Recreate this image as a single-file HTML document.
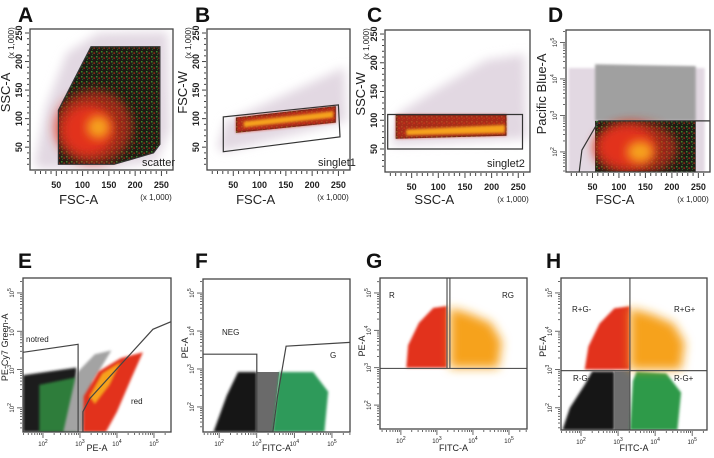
<!DOCTYPE html>
<html><head><meta charset="utf-8"><style>
html,body{margin:0;padding:0;background:#fff}
svg{display:block;font-family:"Liberation Sans",sans-serif}
</style></head><body>
<svg id="fig" width="714" height="458" viewBox="0 0 714 458" xmlns="http://www.w3.org/2000/svg">
<defs>
<filter id="soft" x="-20%" y="-20%" width="140%" height="140%"><feGaussianBlur stdDeviation="1.3"/></filter>
<filter id="soft4" x="-30%" y="-30%" width="160%" height="160%"><feGaussianBlur stdDeviation="5"/></filter>
<pattern id="speck" width="5" height="5" patternUnits="userSpaceOnUse"><rect width="5" height="5" fill="#1e1c14"/><rect x="1" y="1" width="1.5" height="1.5" fill="#3a8a30"/><rect x="3.5" y="2.5" width="1.3" height="1.3" fill="#b83018"/><rect x="2" y="3.8" width="1" height="1" fill="#2d6f2a"/></pattern>
</defs>
<g id="root"></g>
</svg>
<script>
// ---- panel data (data units; log panels use log10 exponents) ----
const aCloud=[[8,20],[30,120],[70,215],[130,250],[262,252],[266,80],[240,25],[150,12],[20,12]];
const aGate=[[54,20],[54,115],[116,226],[247,226],[247,55],[235,40],[160,20]];
const aRedWide=[[120,85,75,65]];
const aRed=[[110,80,50,45]];
const aOrange=[[130,85,22,20]];
const bCloud=[[20,50],[35,95],[100,122],[262,190],[266,95],[120,62],[30,42]];
const bGate=[[31,42],[31,103],[250,124],[253,68]];
const bPop=[[55,75],[55,102],[245,122],[245,93]];
const bOrange=[[70,85],[70,95],[240,113],[240,102]];
const cCloud=[[12,58],[25,112],[90,150],[190,205],[262,215],[266,68],[12,56]];
const cGate=[[5,50],[5,110],[258,110],[258,50]];
const cPop=[[20,68],[20,110],[228,110],[228,73]];
const cOrange=[[40,74],[40,84],[225,92],[225,78]];
const dCloud=[[5,1.45],[5,4.3],[262,4.3],[262,1.45]];
const dGray=[[55,2.85],[55,4.4],[245,4.35],[245,2.85]];
const dPop=[[55,1.45],[55,2.85],[245,2.85],[245,1.45]];
const dRedWide=[[130,2.1,80,0.75]];
const dRed=[[115,2.15,55,0.6]];
const dOrange=[[140,2.0,25,0.3]];
const dGate=[[25,1.45],[30,2.05],[62,2.85],[272,2.85]];
const eGreen=[[1.46,1.37],[1.46,2.85],[2.9,3.05],[2.9,1.37]];
const eGray=[[2.55,1.37],[2.9,2.9],[3.4,3.4],[3.85,3.5],[3.35,2.7],[3.08,1.37]];
const eRed=[[3.08,1.37],[3.1,2.3],[3.5,2.95],[4.1,3.3],[4.7,3.45],[4.4,2.8],[4.0,1.9],[3.7,1.37]];
const eOrange=[[3.25,2.3],[3.6,2.9],[4.1,3.2],[3.8,2.6],[3.4,2.1]];
const eGate1=[[1.46,3.45],[2.95,3.66],[2.95,1.37]];
const eGate2=[[3.08,1.37],[3.08,1.9],[3.27,2.25],[4.97,4.05],[5.46,4.25]];
const fBlack=[[1.85,1.34],[2.2,2.3],[2.5,2.92],[3.0,2.92],[3.0,1.34]];
const fGray=[[3.0,1.34],[3.0,2.92],[3.6,2.92],[3.42,1.34]];
const fGreen=[[3.42,1.34],[3.6,2.92],[4.5,2.92],[4.9,2.4],[4.8,1.34]];
const fGate1=[[1.57,3.39],[3.0,3.39],[3.0,1.34]];
const fGate2=[[3.43,1.34],[3.55,2.26],[3.78,3.6],[5.48,3.7]];
const gRed=[[2.15,3.0],[2.2,3.6],[2.5,4.2],[2.9,4.6],[3.28,4.65],[3.28,3.0]];
const gOrange=[[3.36,3.0],[3.36,4.6],[3.9,4.45],[4.5,4.2],[4.8,3.7],[4.7,3.0]];
const hRed=[[2.1,3.0],[2.2,3.6],[2.5,4.2],[2.9,4.6],[3.32,4.65],[3.32,3.0]];
const hOrange=[[3.32,3.0],[3.32,4.6],[3.9,4.45],[4.5,4.2],[4.8,3.7],[4.7,3.0]];
const hBlack=[[1.5,1.42],[1.7,2.0],[2.1,2.6],[2.3,2.95],[2.9,2.95],[2.9,1.42]];
const hGray=[[2.9,1.42],[2.9,2.95],[3.32,2.95],[3.32,1.42]];
const hGreen=[[3.32,1.42],[3.4,2.7],[3.5,2.95],[4.3,2.9],[4.7,2.4],[4.6,1.42]];
const linTicks=[50,100,150,200,250];
const logTicks=[2,3,4,5];

const NS="http://www.w3.org/2000/svg";
const root=document.getElementById('root');
function el(tag,attrs,parent){const e=document.createElementNS(NS,tag);for(const k in attrs)e.setAttribute(k,attrs[k]);(parent||root).appendChild(e);return e;}
function sx(p,v){return p.box[0]+(v-p.xd[0])/(p.xd[1]-p.xd[0])*p.box[2];}
function sy(p,v){return p.box[1]+p.box[3]-(v-p.yd[0])/(p.yd[1]-p.yd[0])*p.box[3];}
function poly(p,pts,fill,stroke,filt,name,closed){
  const d=pts.map((q,i)=>(i?'L':'M')+sx(p,q[0]).toFixed(1)+' '+sy(p,q[1]).toFixed(1)).join(' ')+(closed===false?'':' Z');
  const e=el('path',{d:d,fill:fill||'none',stroke:stroke||'none','stroke-width':1.2,'clip-path':'url(#clip'+p.id+')'});
  if(filt)e.setAttribute('filter','url(#'+filt+')');
  
  
  return e;}
function ell(p,arr,fill,filt,name,op){arr.forEach(a=>{const cx=sx(p,a[0]),cy=sy(p,a[1]);const rx=Math.abs(sx(p,a[0]+a[2])-cx),ry=Math.abs(sy(p,a[1]+a[3])-cy);
  const e=el('ellipse',{cx:cx,cy:cy,rx:rx,ry:ry,fill:fill,filter:'url(#'+filt+')','clip-path':'url(#clip'+p.id+')',opacity:op||1});
  
  });}
function text(x,y,s,size,opts){const t=el('text',Object.assign({x:x,y:y,'font-size':size,fill:'#222'},opts||{}));t.textContent=s;return t;}

const panels=[
 {id:'A',box:[30,29,143,141],xd:[0,272],yd:[10,257],xl:'FSC-A',yl:'SSC-A',lx:18,ly:22},
 {id:'B',box:[207,29,143,141],xd:[0,272],yd:[10,257],xl:'FSC-A',yl:'FSC-W',lx:195,ly:22},
 {id:'C',box:[385,30,145,142],xd:[0,272],yd:[10,257],xl:'SSC-A',yl:'SSC-W',lx:367,ly:22},
 {id:'D',box:[566,30,144,142],xd:[0,272],yd:[1.45,5.34],ylog:true,xl:'FSC-A',yl:'Pacific Blue-A',lx:548,ly:22},
 {id:'E',box:[23,278,148,154],xd:[1.46,5.46],yd:[1.37,5.39],xlog:true,ylog:true,xl:'PE-A',yl:'PE-Cy7 Green-A',lx:18,ly:268},
 {id:'F',box:[203,279,147,153],xd:[1.57,5.48],yd:[1.34,5.37],xlog:true,ylog:true,xl:'FITC-A',yl:'PE-A',lx:195,ly:268},
 {id:'G',box:[380,278,147,151],xd:[1.42,5.5],yd:[1.36,5.4],xlog:true,ylog:true,xl:'FITC-A',yl:'PE-A',lx:366,ly:268},
 {id:'H',box:[561,278,146,152],xd:[1.46,5.4],yd:[1.42,5.39],xlog:true,ylog:true,xl:'FITC-A',yl:'PE-A',lx:546,ly:268}
];
const defs=document.querySelector('defs');
panels.forEach(p=>{const c=el('clipPath',{id:'clip'+p.id},defs);el('rect',{x:p.box[0],y:p.box[1],width:p.box[2],height:p.box[3]},c);});
const P={};panels.forEach(p=>P[p.id]=p);
const lav='#e2d8e2',red='#e2301e',org='#f6a21e',grn='#2f9a4a',gry='#a3a3a3';

// A
poly(P.A,aCloud,lav,null,'soft4','background-events');
poly(P.A,aGate,'url(#speck)',null,null,'gated-events');
ell(P.A,aRedWide,red,'soft4','red-density-outer',0.6);
ell(P.A,aRed,red,'soft4','red-density');ell(P.A,aOrange,org,'soft4','orange-density');
poly(P.A,aGate,null,'#333',null,'scatter-gate');
// B
poly(P.B,bCloud,lav,null,'soft4','background-events');
poly(P.B,bPop,'url(#speck)',null,null,'gated-events');
poly(P.B,bPop,red,null,'soft','red-density').setAttribute('opacity','0.75');
poly(P.B,bOrange,org,null,'soft','orange-density');
poly(P.B,bGate,null,'#333',null,'singlet1-gate');
// C
poly(P.C,cCloud,lav,null,'soft4','background-events');
poly(P.C,cPop,'url(#speck)',null,null,'gated-events');
poly(P.C,cPop,red,null,'soft','red-density').setAttribute('opacity','0.7');
poly(P.C,cOrange,org,null,'soft','orange-density');
poly(P.C,cGate,null,'#333',null,'singlet2-gate');
// D
poly(P.D,dCloud,lav,null,'soft','background-events');
poly(P.D,dGray,'#a0a0a0',null,'soft','blue-positive-events');
poly(P.D,dPop,'url(#speck)',null,null,'gated-events');
ell(P.D,dRedWide,red,'soft4','red-density-outer',0.6);
ell(P.D,dRed,red,'soft4','red-density');ell(P.D,dOrange,org,'soft4','orange-density');
poly(P.D,dGate,null,'#333',null,'live-gate',false);
// E
poly(P.E,eGreen,'#1b1b1b',null,'soft','notred-dark');
poly(P.E,[[1.9,1.37],[1.9,2.6],[2.9,2.8],[2.9,1.37]],'#2e7d3a',null,'soft','notred-green');
poly(P.E,eGray,gry,null,'soft','intermediate-events');
poly(P.E,eRed,red,null,'soft','red-events');
poly(P.E,eOrange,org,null,'soft','red-dense-core');
poly(P.E,eGate1,null,'#444',null,'notred-gate',false);
poly(P.E,eGate2,null,'#444',null,'red-gate',false);
// F
poly(P.F,fBlack,'#151515',null,'soft','negative-events');
poly(P.F,fGray,'#6a6a6a',null,null,'intermediate-events');
poly(P.F,fGreen,'#2f9a5a',null,'soft','green-events');
poly(P.F,fGate1,null,'#444',null,'neg-gate',false);
poly(P.F,fGate2,null,'#444',null,'g-gate',false);
// G
poly(P.G,gRed,red,null,'soft','r-events');
poly(P.G,gOrange,org,null,'soft4','rg-events');
// H
poly(P.H,hBlack,'#151515',null,'soft','rneg-gneg-events');
poly(P.H,hGray,'#6e6e6e',null,null,'intermediate-events');
poly(P.H,hGreen,grn,null,'soft','rneg-gpos-events');
poly(P.H,hRed,red,null,'soft','rpos-gneg-events');
poly(P.H,hOrange,org,null,'soft4','rpos-gpos-events');

function qline(p,x1,y1,x2,y2,name){const e=el('line',{x1:sx(p,x1),y1:sy(p,y1),x2:sx(p,x2),y2:sy(p,y2),stroke:'#555','stroke-width':1.2});}
qline(P.G,P.G.xd[0],2.98,P.G.xd[1],2.98,'quadrant-horizontal');
qline(P.G,3.28,2.98,3.28,P.G.yd[1],'quadrant-vertical-1');
qline(P.G,3.36,2.98,3.36,P.G.yd[1],'quadrant-vertical-2');
qline(P.H,P.H.xd[0],2.97,P.H.xd[1],2.97,'quadrant-horizontal');
qline(P.H,3.32,P.H.yd[0],3.32,P.H.yd[1],'quadrant-vertical');

panels.forEach(p=>{
  const [bx,by,bw,bh]=p.box;
  const f=el('rect',{x:bx,y:by,width:bw,height:bh,fill:'none',stroke:'#444','stroke-width':1.3});
  
  
  const L=text(p.lx,p.ly,p.id,21,{'font-weight':'bold',fill:'#111'});
  
  
  if(!p.xlog){
    for(let v=10;v<=260;v+=10){const x=sx(p,v);el('line',{x1:x,y1:by+bh+1,x2:x,y2:by+bh+(v%50?4:6),stroke:'#444','stroke-width':1});}
    linTicks.forEach(v=>{const t=text(sx(p,v),by+bh+18,String(v),9,{'text-anchor':'middle','font-weight':'bold'});});
    const u=text(bx+bw-17,by+bh+30,'(x 1,000)',8,{'text-anchor':'middle'});
  } else {
    for(let d=1;d<=5;d++)for(let m=1;m<10;m++){const v=d+Math.log10(m);if(v<p.xd[0]||v>p.xd[1])continue;const x=sx(p,v);el('line',{x1:x,y1:by+bh+1,x2:x,y2:by+bh+(m===1?6:3),stroke:'#444','stroke-width':0.8});}
    logTicks.forEach(v=>{const t=text(sx(p,v),by+bh+14,'10',6,{'text-anchor':'middle'});const s=el('tspan',{dy:-3,'font-size':5},t);s.textContent=String(v);});
  }
  if(!p.ylog){
    for(let v=20;v<=250;v+=10){const y=sy(p,v);el('line',{x1:bx-1,y1:y,x2:bx-(v%50?3:5),y2:y,stroke:'#444','stroke-width':1});}
    linTicks.forEach(v=>{const y=sy(p,v);const t=text(bx-8,y,String(v),9,{'text-anchor':'middle','font-weight':'bold',transform:'rotate(-90 '+(bx-8)+' '+y+')'});});
    const u=text(bx-16,by+14,'(x 1,000)',8,{'text-anchor':'middle',transform:'rotate(-90 '+(bx-16)+' '+(by+14)+')'});
  } else {
    for(let d=1;d<=5;d++)for(let m=1;m<10;m++){const v=d+Math.log10(m);if(v<p.yd[0]||v>p.yd[1])continue;const y=sy(p,v);el('line',{x1:bx-1,y1:y,x2:bx-(m===1?6:3),y2:y,stroke:'#444','stroke-width':0.8});}
    logTicks.forEach(v=>{const y=sy(p,v);const t=text(bx-9,y,'10',6,{'text-anchor':'middle',transform:'rotate(-90 '+(bx-9)+' '+y+')'});const s=el('tspan',{dy:-3,'font-size':5},t);s.textContent=String(v);});
  }
  const small=p.xlog;
  const xt=text(p.xlog?bx+bw/2:bx+bw*0.34,p.xlog?451:204,p.xl,small?9:13,{'text-anchor':'middle'});
  
  const yx=p.xlog?bx-15:bx-20, yy=by+bh*0.45;
  const yt=text(yx,yy,p.yl,small?9:13,{'text-anchor':'middle',transform:'rotate(-90 '+yx+' '+yy+')'});
  
});
[['scatter',142,166,11],['singlet1',318,166,11],['singlet2',487,167,11],['notred',26,342,8],['red',131,404,8],['NEG',222,335,8],['G',330,358,8],['R',389,298,8],['RG',502,298,8],['R+G-',572,312,8],['R+G+',674,312,8],['R-G-',573,381,8],['R-G+',674,381,8]].forEach(g=>{
  const t=text(g[1],g[2],g[0],g[3]);
  
  
});
</script>
</body></html>
